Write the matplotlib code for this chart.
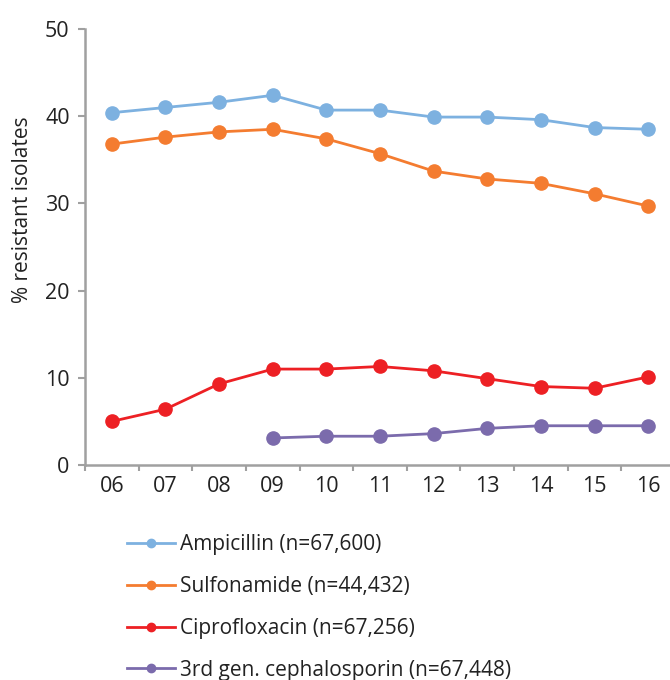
import matplotlib
matplotlib.use("Agg")
import matplotlib.pyplot as plt
from matplotlib.lines import Line2D

plt.rcParams['font.family'] = ['Open Sans', 'DejaVu Sans']

years = ['06', '07', '08', '09', '10', '11', '12', '13', '14', '15', '16']
ampicillin = [40.4, 41.0, 41.6, 42.4, 40.7, 40.7, 39.9, 39.9, 39.6, 38.7, 38.5]
sulfonamide = [36.8, 37.6, 38.2, 38.5, 37.4, 35.7, 33.7, 32.8, 32.3, 31.1, 29.7]
ciprofloxacin = [5.0, 6.4, 9.3, 11.0, 11.0, 11.3, 10.8, 9.9, 9.0, 8.8, 10.1]
ceph_years = ['09', '10', '11', '12', '13', '14', '15', '16']
cephalosporin = [3.1, 3.3, 3.3, 3.6, 4.2, 4.5, 4.5, 4.5]

labels = ['Ampicillin (n=67,600)', 'Sulfonamide (n=44,432)',
          'Ciprofloxacin (n=67,256)', '3rd gen. cephalosporin (n=67,448)']
colors = ['#7DB1E0', '#F47C30', '#ED2024', '#7B6BAC']

fig = plt.figure(figsize=(6.7, 6.8), dpi=100)
# axis runs a bit past the right edge like the original
ax = fig.add_axes([85/670, 215/680, 590/670, 436/680])

xs = list(range(len(years)))
xc = [years.index(y) for y in ceph_years]
series = [(xs, ampicillin), (xs, sulfonamide), (xs, ciprofloxacin), (xc, cephalosporin)]
for (x, y), c in zip(series, colors):
    ax.plot(x, y, color=c, lw=2, marker='o', ms=9.5, clip_on=False)

ax.set_xlim(-0.5, len(years) - 0.5)
ax.set_ylim(0, 50)
ax.set_yticks([0, 10, 20, 30, 40, 50])
ax.set_xticks(xs)
ax.set_xticklabels(years)
ax.set_xticks([i - 0.5 for i in range(len(years) + 1)], minor=True)

gray = '#A0A0A0'
for s in ['top', 'right']:
    ax.spines[s].set_visible(False)
for s in ['left', 'bottom']:
    ax.spines[s].set_color(gray)
    ax.spines[s].set_linewidth(1.8)
ax.tick_params(axis='x', which='major', length=0, pad=8, labelsize=15.5, labelcolor='#222222')
ax.tick_params(axis='x', which='minor', length=4, width=1.5, color=gray)
ax.tick_params(axis='y', length=5, width=1.5, color=gray, pad=6, labelsize=15.5, labelcolor='#222222')

ax.set_ylabel('% resistant isolates', fontsize=15, color='#222222')
ax.yaxis.set_label_coords(-0.088, 0.585)

handles = [Line2D([], [], color=c, lw=2, marker='o', ms=6) for c in colors]
fig.legend(handles, labels, loc='upper left', bbox_to_anchor=(123/670, 1 - 530/680),
           frameon=False, fontsize=15, handlelength=2.3, handletextpad=0.25,
           labelspacing=1.0, labelcolor='#222222', borderaxespad=0, borderpad=0.2)

fig.savefig('out.png', dpi=100)
